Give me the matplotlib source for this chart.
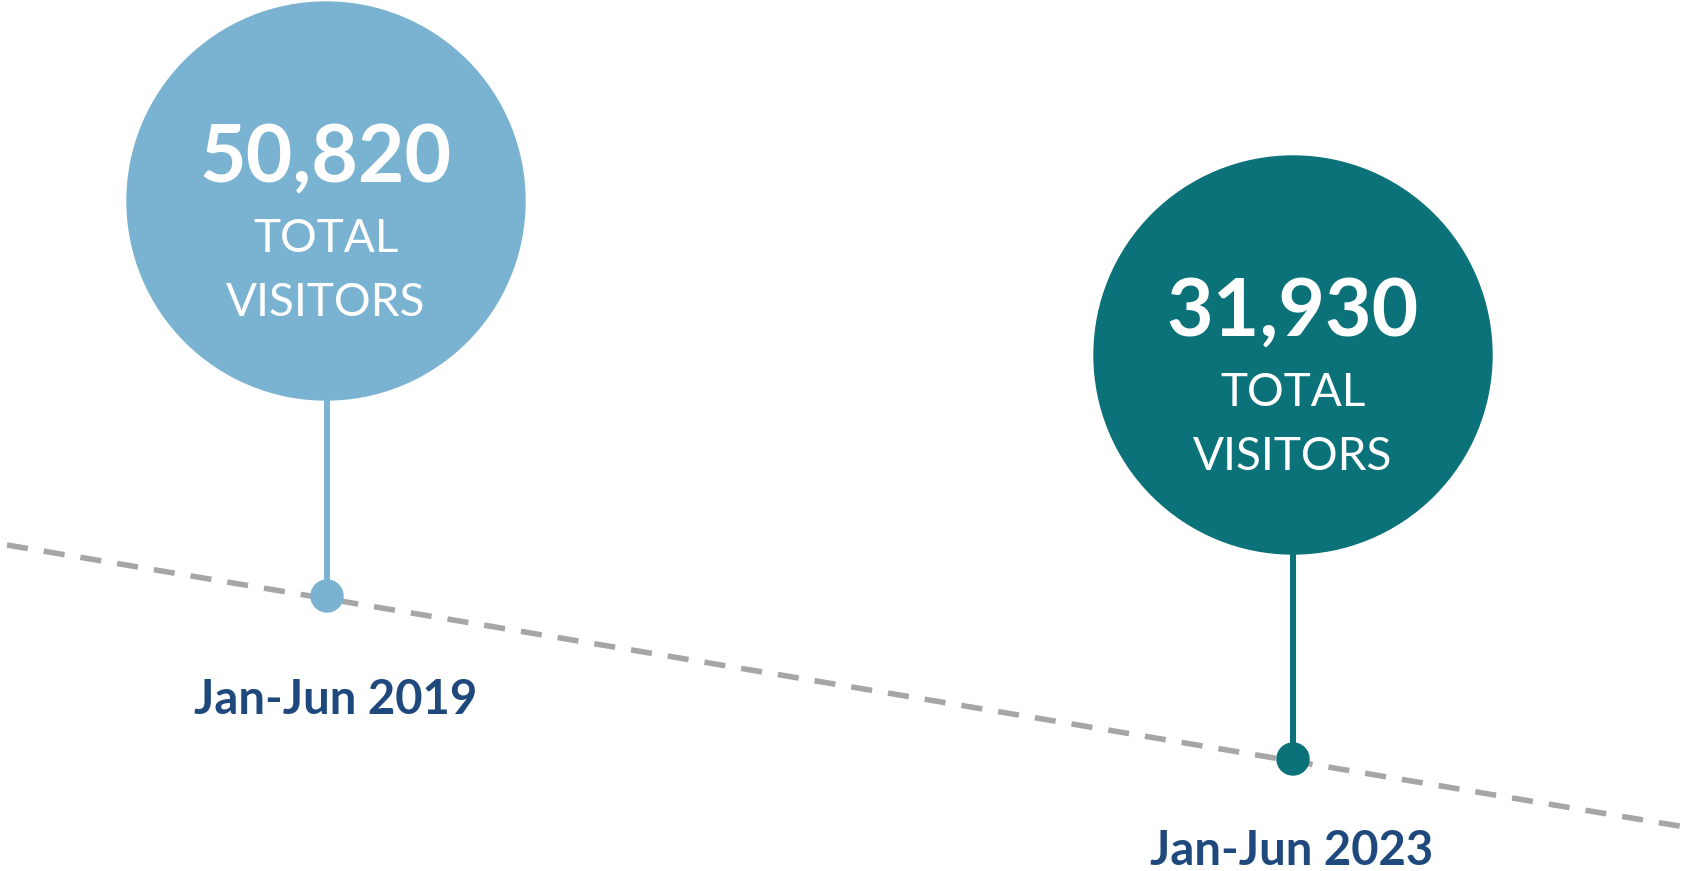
import matplotlib
matplotlib.use("Agg")
import matplotlib.pyplot as plt
from matplotlib.patches import Circle

# Data
periods = ["Jan-Jun 2019", "Jan-Jun 2023"]
visitors = [50820, 31930]
caption_lines = ["TOTAL", "VISITORS"]

# Layout (pixel canvas, y grows downward)
W, H = 1689, 871
bubble_centers = [(326, 201), (1293, 355)]
bubble_radius = 199
dot_centers = [(327, 596), (1293, 759)]
dot_radius = 16
label_baselines = [714, 865]
label_x = [336, 1292]
trend_start = (7, 545)
trend_end = (1685, 827)

colors = ["#7AB3D1", "#0B7279"]
label_color = "#1F497D"
trend_color = "#A6A6A6"

fig = plt.figure(figsize=(W / 100, H / 100), dpi=100)
ax = fig.add_axes([0, 0, 1, 1])
ax.set_xlim(0, W)
ax.set_ylim(H, 0)
ax.set_aspect("equal")
ax.axis("off")

# Dashed trend line
ax.plot([trend_start[0], trend_end[0]], [trend_start[1], trend_end[1]],
        color=trend_color, lw=4.0, dashes=(3.8, 2.9), dash_capstyle="butt",
        zorder=1)

for i, (period, value) in enumerate(zip(periods, visitors)):
    cx, cy = bubble_centers[i]
    dx, dy = dot_centers[i]
    col = colors[i]
    # Stem from bubble to the timeline dot
    ax.plot([dx, dx], [cy + bubble_radius - 2, dy], color=col, lw=4.3,
            solid_capstyle="butt", zorder=2)
    ax.add_patch(Circle((dx, dy), dot_radius, color=col, zorder=3))
    ax.add_patch(Circle((cx, cy), bubble_radius, color=col, zorder=4))

    ax.text(cx, cy - 19, f"{value:,}", color="white", fontsize=58,
            fontweight="bold", family="Lato", ha="center", va="baseline",
            zorder=5)
    ax.text(cx, cy + 51, caption_lines[0], color="white", fontsize=33,
            family="Lato", ha="center", va="baseline", zorder=5)
    ax.text(cx, cy + 115, caption_lines[1], color="white", fontsize=33,
            family="Lato", ha="center", va="baseline", zorder=5)

    ax.text(label_x[i], label_baselines[i], period, color=label_color,
            fontsize=34, fontweight="bold", family="Lato", ha="center",
            va="baseline", zorder=5)

fig.savefig("out.png", dpi=100, facecolor="white")
